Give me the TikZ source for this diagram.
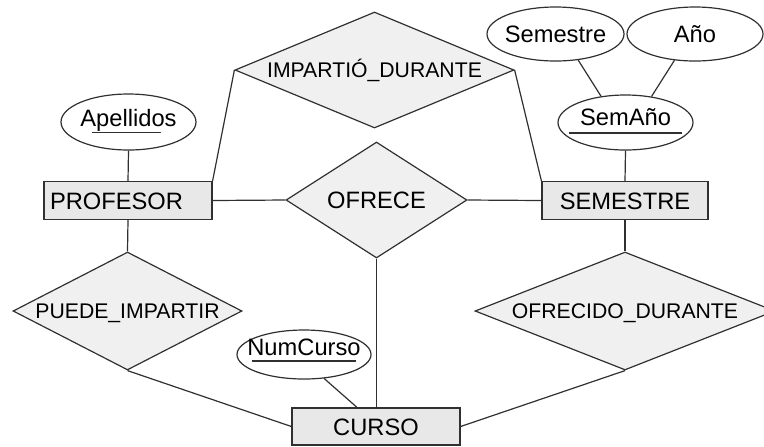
\documentclass[tikz,border=0pt]{standalone}
\usepackage{fontspec}
\setmainfont{Liberation Sans}
\usetikzlibrary{shapes.geometric,calc}
\definecolor{entfill}{HTML}{E8E8E8}
\definecolor{relfill}{HTML}{F0F0F0}
\definecolor{lin}{HTML}{303030}
\begin{document}
\begin{tikzpicture}[x=0.5pt,y=-0.5pt,
  every node/.style={font=\fontsize{11.85}{14}\selectfont, text height=8.5pt, text depth=0pt},
  entity/.style={draw=lin, fill=entfill, line width=0.6pt, rectangle, inner sep=0pt},
  attr/.style={draw=lin, fill=white, ellipse, line width=0.6pt, inner sep=0pt, inner xsep=-8pt},
  rel/.style={draw=lin, fill=relfill, diamond, aspect=3, inner sep=0pt, inner xsep=-5pt, line width=0.6pt},
  smallrel/.style={rel, font=\fontsize{10.6}{13}\selectfont, text height=7.6pt},
  conn/.style={draw=lin, line width=0.6pt}]
\useasboundingbox (0,0) rectangle (764,446);

% entities
\node[entity, minimum width=84pt, minimum height=19pt, text width=78pt, align=left, inner xsep=3pt] (profesor) at (128,200.5) {PROFESOR};
\node[entity, minimum width=83pt, minimum height=19pt] (semestre) at (625,200.5) {SEMESTRE};
\node[entity, minimum width=84pt, minimum height=18.5pt] (curso) at (376,426.5) {CURSO};

% attributes
\node[attr, minimum width=67.5pt, minimum height=28pt, text depth=4pt] (apellidos) at (128.5,122) {Apellidos};
\node[attr, minimum width=68.5pt, minimum height=27pt] (sem) at (555.5,34) {Semestre};
\node[attr, minimum width=68pt, minimum height=27pt] (anio) at (695,34) {Año};
\node[attr, minimum width=67.5pt, minimum height=27.5pt, text depth=6pt] (semanio) at (625.5,122.5) {SemAño};
\node[attr, minimum width=67pt, minimum height=24.5pt, text depth=7.5pt] (numcurso) at (304,354.5) {NumCurso};

% relationships
\node[smallrel, minimum width=139.5pt, minimum height=58pt] (impartio) at (374.5,70) {IMPARTIÓ\_DURANTE};
\node[rel, minimum width=90.5pt, minimum height=58pt] (ofrece) at (376.5,200) {OFRECE};
\node[smallrel, minimum width=114.5pt, minimum height=59pt] (puede) at (127.5,311) {PUEDE\_IMPARTIR};
\node[smallrel, minimum width=150pt, minimum height=59pt] (ofrecido) at (625,311) {OFRECIDO\_DURANTE};

% connectors
\draw[conn] (apellidos.south) -- (profesor.north);
\draw[conn] (impartio.west) -- (profesor.north east);
\draw[conn] (impartio.east) -- (semestre.north west);
\draw[conn] (profesor.east) -- (ofrece.west);
\draw[conn] (ofrece.east) -- (semestre.west);
\draw[conn] (sem.-49) -- (semanio.133);
\draw[conn] (anio.232) -- (semanio.45);
\draw[conn] (semanio.south) -- (semestre.north);
\draw[conn] (profesor.south) -- (puede.north);
\draw[conn] (semestre.south) -- (ofrecido.north);
\draw[conn] (puede.south) -- (curso.west);
\draw[conn] (ofrecido.south) -- (curso.east);
\draw[conn] (ofrece.south) -- (ofrece.south |- curso.north);
\draw[conn] (numcurso.-50) -- ([xshift=-9.5pt]curso.north);

% key underlines
\draw[conn] ([xshift=-18.25pt,yshift=-5.35pt]apellidos.center) -- ++(69,0);
\draw[conn] ([xshift=-28.25pt,yshift=-5.25pt]semanio.center) -- ++(113,0);
\draw[conn] ([xshift=-26pt,yshift=-3.25pt]numcurso.center) -- ++(104,0);
\end{tikzpicture}
\end{document}
